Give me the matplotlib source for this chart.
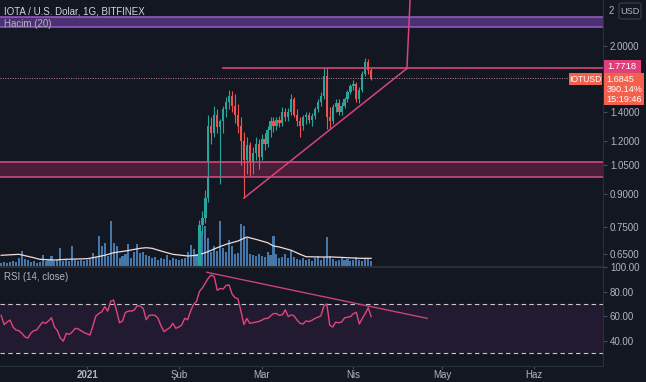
import datetime as dt

import matplotlib
matplotlib.use("Agg")
import matplotlib.pyplot as plt
import matplotlib.dates as mdates
from matplotlib.patches import Rectangle, FancyBboxPatch
from matplotlib.ticker import FixedLocator, NullLocator
import numpy as np

plt.rcParams["font.family"] = ["Liberation Sans", "DejaVu Sans"]

BG = "#131722"
TXT = "#b2b5be"
UP = "#26a69a"
DOWN = "#ef5350"
PINK = "#d9437a"
ORANGE = "#f2604e"
W, H = 646, 382

# daily candles, IOT/USD, from 2021-02-08 (earlier ones sit below the visible range)
candle_start = dt.datetime(2021, 2, 8)
opens = [0.55, 0.76, 0.79, 0.88, 1.30, 1.25, 1.38, 1.29, 1.33, 1.42,
         1.48, 1.53, 1.45, 1.38, 1.30, 1.20, 1.08, 1.17, 1.07, 1.12,
         1.18, 1.10, 1.21, 1.18, 1.27, 1.33, 1.30, 1.34, 1.32, 1.40,
         1.36, 1.40, 1.50, 1.38, 1.33, 1.30, 1.36, 1.38, 1.34, 1.37,
         1.42, 1.48, 1.53, 1.70, 1.36, 1.33, 1.44, 1.47, 1.40, 1.45,
         1.50, 1.56, 1.61, 1.63, 1.50, 1.58, 1.72, 1.83, 1.76]
highs = [0.78, 0.82, 0.92, 1.38, 1.36, 1.45, 1.42, 1.35, 1.45, 1.52,
         1.58, 1.57, 1.54, 1.46, 1.36, 1.26, 1.22, 1.19, 1.16, 1.22,
         1.21, 1.24, 1.25, 1.30, 1.36, 1.36, 1.36, 1.37, 1.44, 1.43,
         1.43, 1.54, 1.52, 1.42, 1.36, 1.38, 1.40, 1.40, 1.39, 1.44,
         1.50, 1.56, 1.78, 1.78, 1.44, 1.46, 1.50, 1.50, 1.48, 1.52,
         1.58, 1.63, 1.66, 1.65, 1.60, 1.75, 1.87, 1.86, 1.78]
lows = [0.54, 0.72, 0.77, 0.86, 1.18, 1.22, 1.25, 0.95, 1.25, 1.36,
        1.42, 1.40, 1.32, 1.25, 1.05, 0.88, 1.00, 0.99, 1.00, 1.08,
        1.03, 1.08, 1.14, 1.16, 1.22, 1.26, 1.27, 1.29, 1.30, 1.33,
        1.33, 1.38, 1.36, 1.30, 1.22, 1.27, 1.31, 1.32, 1.30, 1.35,
        1.40, 1.45, 1.50, 1.28, 1.28, 1.31, 1.40, 1.38, 1.38, 1.43,
        1.48, 1.54, 1.58, 1.48, 1.47, 1.56, 1.70, 1.72, 1.66]
closes = [0.76, 0.79, 0.88, 1.30, 1.25, 1.38, 1.29, 1.33, 1.42, 1.48,
          1.53, 1.45, 1.38, 1.30, 1.20, 1.08, 1.17, 1.07, 1.12, 1.18,
          1.10, 1.21, 1.18, 1.27, 1.33, 1.30, 1.34, 1.32, 1.40, 1.36,
          1.40, 1.50, 1.38, 1.33, 1.30, 1.36, 1.38, 1.34, 1.37, 1.42,
          1.48, 1.53, 1.70, 1.36, 1.33, 1.44, 1.47, 1.40, 1.45, 1.50,
          1.56, 1.61, 1.63, 1.50, 1.58, 1.72, 1.83, 1.76, 1.6845]

# volume and RSI, daily from 2020-12-03
series_start = dt.datetime(2020, 12, 3)
volume = [3, 4, 3, 4, 5, 4, 8, 15, 7, 6, 4, 5, 3, 4, 11, 5, 6, 10, 5, 6,
          18, 5, 6, 5, 20, 6, 5, 6, 5, 6, 7, 13, 9, 30, 20, 23, 10, 45, 23, 20,
          8, 10, 12, 22, 8, 14, 22, 13, 14, 11, 10, 8, 9, 6, 8, 7, 11, 6, 8, 7,
          6, 7, 8, 14, 21, 17, 12, 25, 35, 40, 28, 14, 20, 15, 45, 18, 14, 26, 20, 12,
          13, 42, 40, 28, 12, 11, 10, 12, 10, 9, 14, 11, 30, 12, 8, 9, 12, 8, 16, 9,
          7, 6, 8, 6, 7, 5, 8, 10, 6, 9, 29, 10, 7, 5, 6, 8, 6, 7, 5, 6,
          9, 6, 5, 8, 7, 5]
vol_ma_days = [0, 6, 11, 13, 18, 22, 29, 31, 35, 38, 42, 47, 49, 51, 54, 58, 63, 66,
               69, 73, 76, 80, 83, 86, 90, 92, 94, 98, 101, 103, 108, 112, 117, 121, 125]
vol_ma = [10.7, 11.7, 8.3, 6.7, 6, 6.7, 7.3, 8.3, 10.7, 13.3, 15, 17.7, 18.3, 17.7,
          15, 11.7, 10, 10.7, 13.3, 18.3, 21.7, 25, 29, 26.7, 23.3, 20, 19, 15.7,
          11.7, 9.3, 9, 9, 8.3, 7.7, 7.7]
rsi = [60.5, 53, 55, 56.7, 51, 48.6, 48, 45.9, 43, 42,
       46, 48, 48.6, 52, 55, 54, 56, 58.6, 51, 48,
       42, 39.5, 45.9, 45, 47, 49.9, 49.5, 48, 46.5, 45.5,
       44.5, 52, 60, 62, 63.5, 67.6, 64, 72, 73, 64,
       54.5, 56, 62.9, 64, 64, 65, 68.5, 68, 66.2, 57,
       60.5, 60.8, 60.5, 58.1, 52, 47.2, 49, 50.5, 54, 50,
       51, 52.6, 58.1, 57, 64, 69.5, 72, 80, 83, 87,
       91, 93.5, 92, 81, 82.5, 82, 85, 85.3, 78, 75,
       74, 64, 53, 58, 54, 54.5, 55, 55.5, 56.5, 58,
       58, 60, 62, 62, 60.5, 61, 65, 59.5, 61, 60,
       56.5, 54, 53.5, 56, 55.4, 56.5, 58, 59, 60, 68,
       70, 52.6, 51, 55, 54.5, 55, 58.5, 59, 59.5, 62,
       63, 53.5, 58, 62, 66.7, 59.5]

# drawings
purple_zone = (2.216, 2.34)
pink_zone = (0.985, 1.068)
resistance = 1.7718
last_price = 1.6845
support_line = ([dt.datetime(2021, 2, 23), dt.datetime(2021, 4, 19, 2)], [0.879, 1.7718])
breakout_line = ([dt.datetime(2021, 4, 19, 2), dt.datetime(2021, 4, 20, 14)], [1.7718, 3.0])
rsi_trend = ([dt.datetime(2021, 2, 10, 12), dt.datetime(2021, 4, 25, 22)], [95.7, 58.1])
res_start = dt.datetime(2021, 2, 15, 14)

price_ticks = [0.65, 0.75, 0.9, 1.05, 1.2, 1.4, 2.0]
rsi_ticks = [40, 60, 80, 100]
month_ticks = [dt.datetime(2021, m, 1) for m in range(1, 7)]
month_labels = ["2021", "Şub", "Mar", "Nis", "May", "Haz"]

jan1 = mdates.date2num(dt.datetime(2021, 1, 1))
px_day = 2.96
x0, x1 = jan1 - 87 / px_day, jan1 + (603 - 87) / px_day

fig = plt.figure(figsize=(W / 100, H / 100), dpi=100, facecolor=BG)
pane_r = 603 / W
axv = fig.add_axes([0, 1 - 266 / H, pane_r, 266 / H])
ax = fig.add_axes([0, 1 - 266 / H, pane_r, 266 / H], sharex=axv)
axr = fig.add_axes([0, 1 - 366 / H, pane_r, 99 / H], sharex=axv)
axv.set_facecolor(BG)
ax.patch.set_visible(False)
axr.set_facecolor(BG)

# volume overlay
vdates = mdates.date2num(series_start) + np.arange(len(volume))
axv.bar(vdates, volume, width=0.7, color="#5089c4", alpha=0.85, linewidth=0)
axv.plot(mdates.date2num(series_start) + np.array(vol_ma_days), vol_ma,
         color="#f1dcdc", lw=0.9)
axv.set_ylim(0, 266)
axv.set_yticks([])
for s in axv.spines.values():
    s.set_visible(False)
axv.tick_params(axis="x", length=0, labelbottom=False)

# candles
cd = mdates.date2num(candle_start) + np.arange(len(opens))
o, h, l, c = map(np.array, (opens, highs, lows, closes))
cols = [UP if cc >= oo else DOWN for oo, cc in zip(o, c)]
ax.vlines(cd, l, h, colors=cols, lw=0.8)
ax.bar(cd, np.abs(c - o), bottom=np.minimum(o, c), width=0.75, color=cols, linewidth=0)

ax.set_yscale("log")
ax.set_ylim(0.609, 2.565)
ax.set_xlim(x0, x1)

ax.axhspan(*purple_zone, color="#52357a", alpha=0.9, lw=0)
for v in purple_zone:
    ax.axhline(v, color="#9a5cc8", lw=1.1)
ax.axhspan(*pink_zone, color="#4d1f3a", alpha=0.95, lw=0)
for v in pink_zone:
    ax.axhline(v, color="#d6507f", lw=1.1)
ax.hlines(resistance, mdates.date2num(res_start), x1, color=PINK, lw=1.2)
ax.axhline(last_price, color="#b8858f", lw=0.7, ls=(0, (1, 1.5)))
ax.plot(*support_line, color=PINK, lw=1.1)
ax.plot(*breakout_line, color=PINK, lw=1.1)

ax.yaxis.tick_right()
ax.yaxis.set_major_locator(FixedLocator(price_ticks))
ax.yaxis.set_minor_locator(NullLocator())
ax.set_yticklabels([f"{v:.4f}" for v in price_ticks])
ax.tick_params(axis="y", colors="#4a4e59", labelcolor=TXT, labelsize=7, length=3, pad=2)
ax.tick_params(axis="x", length=0, labelbottom=False)
for k, s in ax.spines.items():
    s.set_visible(k in ("right", "bottom"))
    s.set_color("#2a2e39")

# RSI pane
rd = mdates.date2num(series_start) + np.arange(len(rsi))
axr.axhspan(30, 70, color="#221a31", lw=0)
for v in (30, 70):
    axr.axhline(v, color="#c9c9c9", lw=0.8, ls=(0, (4, 3)))
axr.plot(rd, rsi, color="#e0457b", lw=1.0)
axr.plot(*rsi_trend, color="#c94379", lw=1.0)
axr.set_ylim(19.2, 100)
axr.set_xlim(x0, x1)
axr.yaxis.tick_right()
axr.set_yticks(rsi_ticks)
axr.set_yticklabels([f"{v:.2f}" for v in rsi_ticks])
axr.tick_params(axis="y", colors="#4a4e59", labelcolor=TXT, labelsize=7, length=3, pad=2)
axr.set_xticks([mdates.date2num(d) for d in month_ticks])
axr.set_xticklabels(month_labels)
axr.tick_params(axis="x", colors="#4a4e59", labelcolor=TXT, labelsize=7, length=2, pad=1)
axr.get_xticklabels()[0].set_fontweight("bold")
for k, s in axr.spines.items():
    s.set_visible(k in ("right", "bottom", "top"))
    s.set_color("#2a2e39")


def fx(x):
    return x / W


def fy(y):
    return 1 - y / H


# legends / titles
fig.text(fx(4), fy(11), "IOTA / U.S. Dolar, 1G, BITFINEX", color="#d1d4dc",
         fontsize=7, va="center")
fig.text(fx(4), fy(24), "Hacim (20)", color=TXT, fontsize=7, va="center")
fig.text(fx(4), fy(277), "RSI (14, close)", color=TXT, fontsize=7, va="center")

# right-axis badges
fig.text(fx(609), fy(11), "2", color=TXT, fontsize=7, va="center")
fig.patches.append(FancyBboxPatch((fx(619), fy(19)), fx(22), 16 / H,
                                  boxstyle="round,pad=0,rounding_size=0.004",
                                  transform=fig.transFigure, fc=BG, ec="#3a3e49", lw=0.8))
fig.text(fx(630), fy(11), "USD", color=TXT, fontsize=6.6, ha="center", va="center")

fig.patches.append(Rectangle((fx(604), fy(73)), fx(37), 13 / H,
                             transform=fig.transFigure, fc="#e0407a", lw=0))
fig.text(fx(607), fy(66.5), "1.7718", color="white", fontsize=6.8, va="center")
fig.patches.append(Rectangle((fx(604), fy(105)), fx(40), 32 / H,
                             transform=fig.transFigure, fc=ORANGE, lw=0))
for yy, t in ((79, "1.6845"), (89, "390.14%"), (99, "15:19:46")):
    fig.text(fx(606.5), fy(yy), t, color="white", fontsize=6.6, va="center")
fig.patches.append(Rectangle((fx(569), fy(85)), fx(33), 12 / H,
                             transform=fig.transFigure, fc=ORANGE, lw=0))
fig.text(fx(585.5), fy(79), "IOTUSD", color="white", fontsize=6.2, ha="center", va="center")

fig.savefig("out.png", dpi=100, facecolor=BG)
